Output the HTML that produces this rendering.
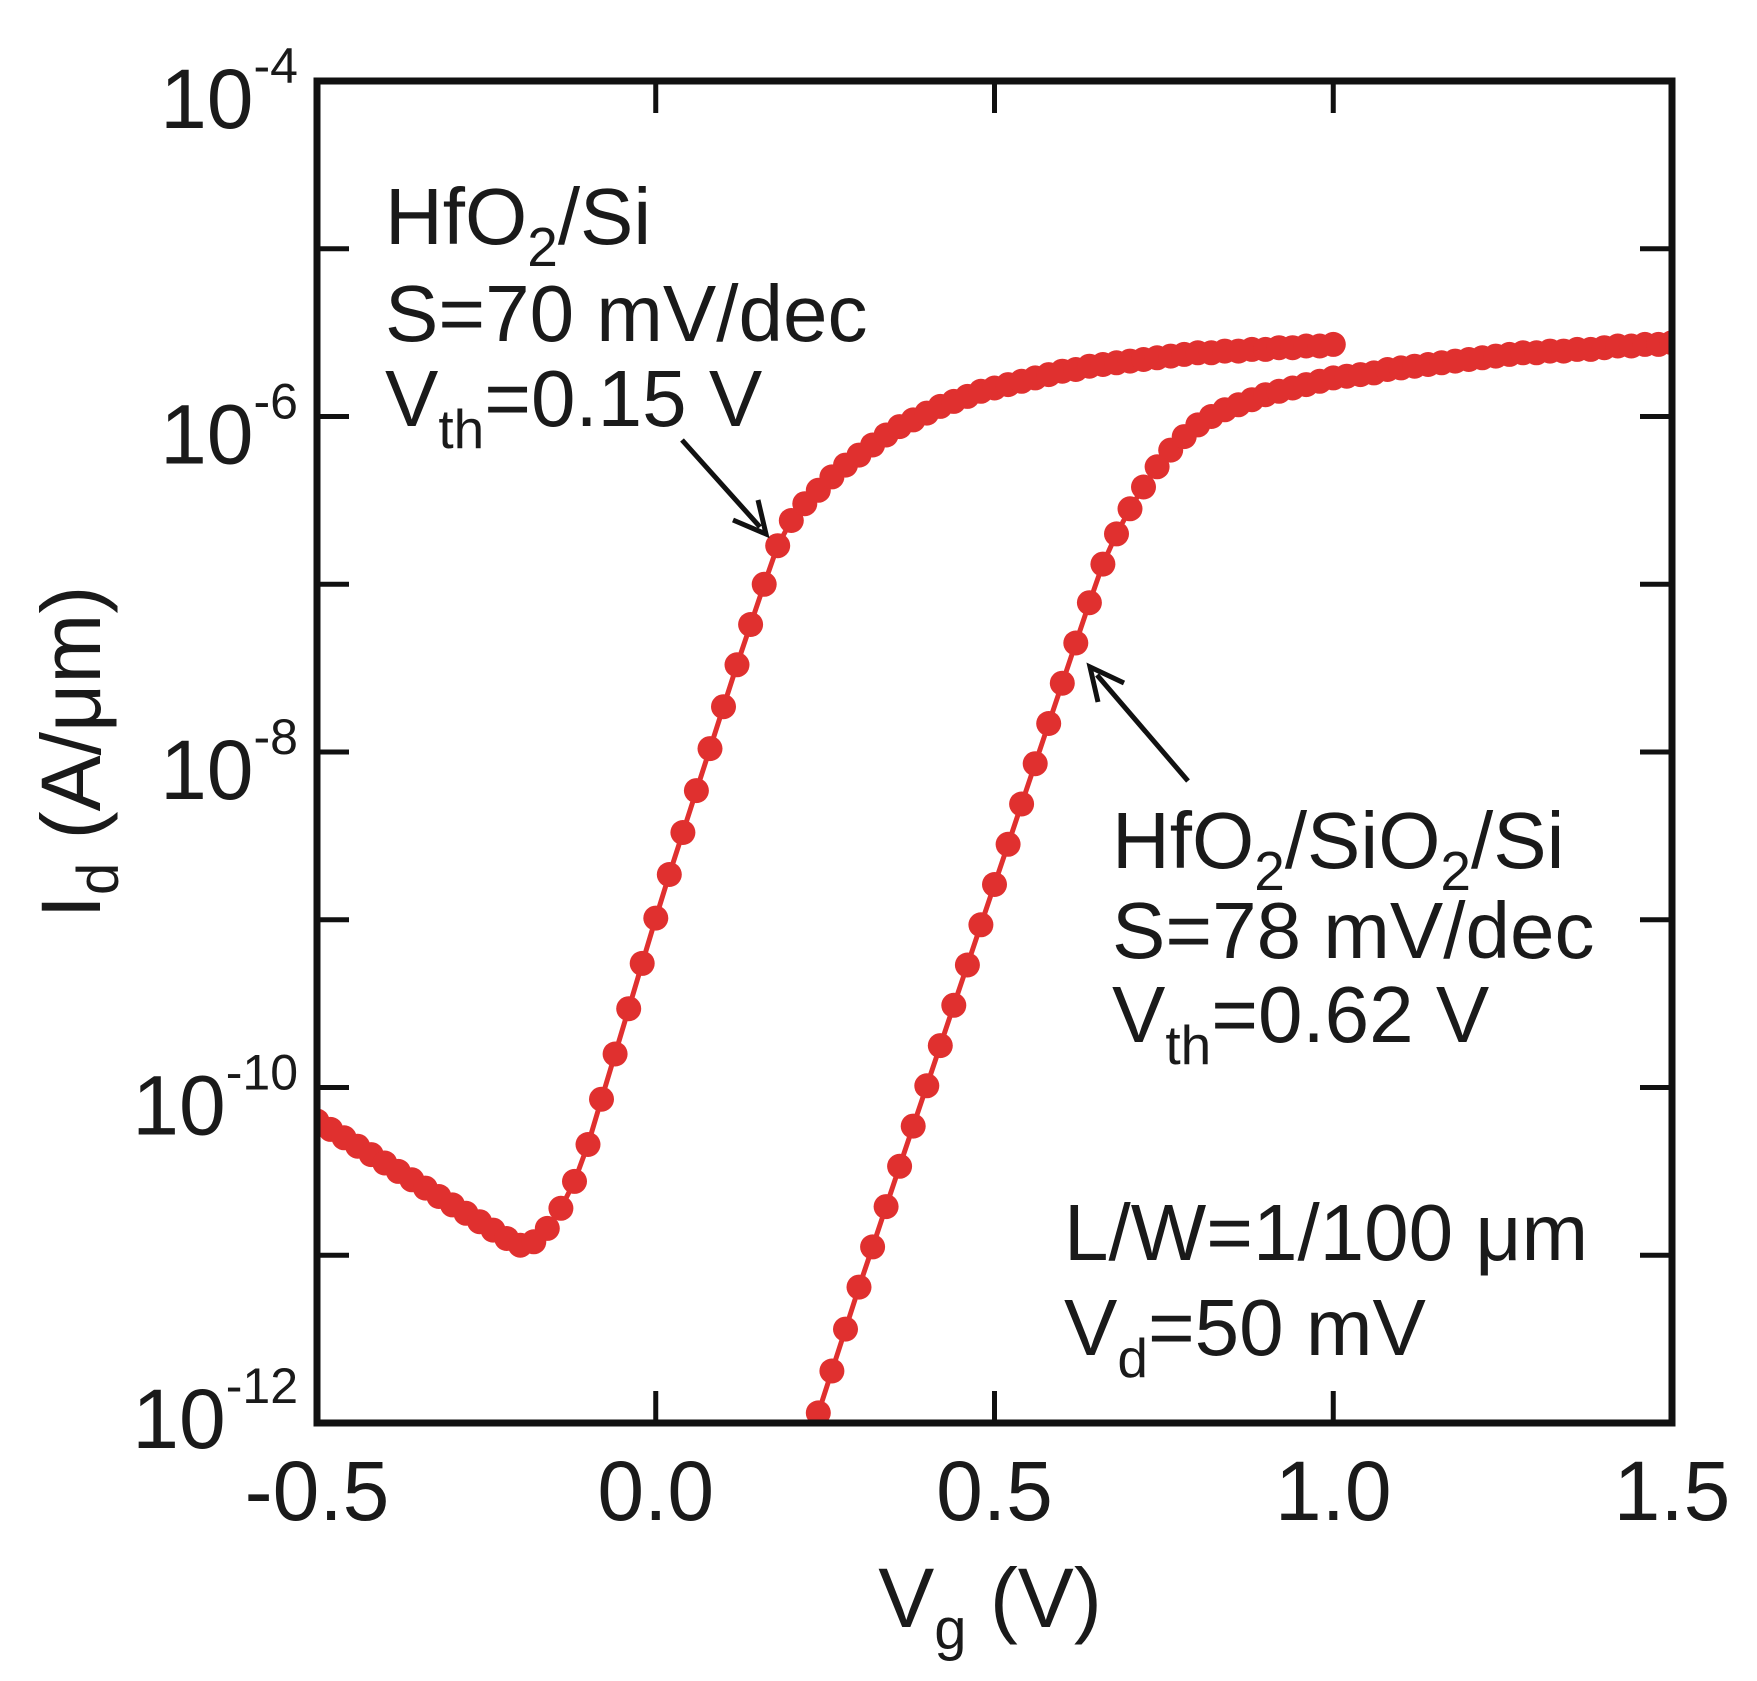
<!DOCTYPE html>
<html><head><meta charset="utf-8"><style>
html,body{margin:0;padding:0;background:#fff;}
svg{display:block;font-family:"Liberation Sans",Arial,sans-serif;}
</style></head><body>
<svg id="chart" width="1757" height="1681" viewBox="0 0 1757 1681" xmlns="http://www.w3.org/2000/svg">
<defs><clipPath id="plotclip"><rect x="317" y="81" width="1355" height="1342"/></clipPath></defs>
<rect x="0" y="0" width="1757" height="1681" fill="#fff"/>
<g id="series" clip-path="url(#plotclip)"></g>
<g id="axes"></g>
<g font-size="80" fill="#1a1a1a">
  <text x="385" y="244">HfO<tspan font-size="55" dy="22">2</tspan><tspan dy="-22">/Si</tspan></text>
  <text x="385" y="341">S=70 mV/dec</text>
  <text x="385" y="426">V<tspan font-size="55" dy="22">th</tspan><tspan dy="-22">=0.15 V</tspan></text>
  <text x="1112" y="868">HfO<tspan font-size="55" dy="22">2</tspan><tspan dy="-22">/SiO</tspan><tspan font-size="55" dy="22">2</tspan><tspan dy="-22">/Si</tspan></text>
  <text x="1112" y="958">S=78 mV/dec</text>
  <text x="1112" y="1042">V<tspan font-size="55" dy="22">th</tspan><tspan dy="-22">=0.62 V</tspan></text>
  <text x="1064" y="1260">L/W=1/100 μm</text>
  <text x="1064" y="1355">V<tspan font-size="55" dy="22">d</tspan><tspan dy="-22">=50 mV</tspan></text>
</g>
<g stroke="#111" stroke-width="5" fill="none">
  <line x1="682" y1="440" x2="760" y2="527"/>
  <polyline points="733,520 766,534 758,500"/>
  <line x1="1188" y1="781" x2="1097" y2="675"/>
  <polyline points="1124,683 1090,667 1098,702"/>
</g>
<text x="100" y="752" font-size="84" fill="#1a1a1a" text-anchor="middle" transform="rotate(-90 100 752)">I<tspan font-size="58" dy="18">d</tspan><tspan dy="-18">  (A/μm)</tspan></text>
<text x="990" y="1627" font-size="84" fill="#1a1a1a" text-anchor="middle">V<tspan font-size="58" dy="22">g</tspan><tspan dy="-22">  (V)</tspan></text>
</svg>
<script>
const xTicks = [-0.5, 0.0, 0.5, 1.0, 1.5];
const xTickLabels = ["-0.5", "0.0", "0.5", "1.0", "1.5"];
const yDecades = [-4, -5, -6, -7, -8, -9, -10, -11, -12];
const yLabelExps = [-4, -6, -8, -10, -12];
const vg1 = [-0.50,-0.48,-0.46,-0.44,-0.42,-0.40,-0.38,-0.36,-0.34,-0.32,-0.30,-0.28,-0.26,-0.24,-0.22,-0.20,-0.18,-0.16,-0.14,-0.12,-0.10,-0.08,-0.06,-0.04,-0.02,0.00,0.02,0.04,0.06,0.08,0.10,0.12,0.14,0.16,0.18,0.20,0.22,0.24,0.26,0.28,0.30,0.32,0.34,0.36,0.38,0.40,0.42,0.44,0.46,0.48,0.50,0.52,0.54,0.56,0.58,0.60,0.62,0.64,0.66,0.68,0.70,0.72,0.74,0.76,0.78,0.80,0.82,0.84,0.86,0.88,0.90,0.92,0.94,0.96,0.98,1.00];
const logId1 = [-10.20,-10.25,-10.30,-10.35,-10.40,-10.45,-10.50,-10.55,-10.60,-10.65,-10.70,-10.75,-10.80,-10.85,-10.90,-10.94,-10.92,-10.84,-10.72,-10.56,-10.34,-10.07,-9.80,-9.53,-9.26,-8.99,-8.73,-8.48,-8.23,-7.98,-7.73,-7.48,-7.24,-7.00,-6.77,-6.62,-6.52,-6.44,-6.36,-6.29,-6.23,-6.17,-6.11,-6.06,-6.02,-5.98,-5.94,-5.91,-5.88,-5.85,-5.83,-5.81,-5.79,-5.77,-5.75,-5.73,-5.72,-5.70,-5.69,-5.68,-5.67,-5.66,-5.65,-5.64,-5.63,-5.62,-5.62,-5.61,-5.61,-5.60,-5.60,-5.59,-5.59,-5.58,-5.58,-5.57];
const vg2 = [0.24,0.26,0.28,0.30,0.32,0.34,0.36,0.38,0.40,0.42,0.44,0.46,0.48,0.50,0.52,0.54,0.56,0.58,0.60,0.62,0.64,0.66,0.68,0.70,0.72,0.74,0.76,0.78,0.80,0.82,0.84,0.86,0.88,0.90,0.92,0.94,0.96,0.98,1.00,1.02,1.04,1.06,1.08,1.10,1.12,1.14,1.16,1.18,1.20,1.22,1.24,1.26,1.28,1.30,1.32,1.34,1.36,1.38,1.40,1.42,1.44,1.46,1.48,1.50];
const logId2 = [-11.94,-11.69,-11.44,-11.19,-10.95,-10.71,-10.47,-10.23,-9.99,-9.75,-9.51,-9.27,-9.03,-8.79,-8.55,-8.31,-8.07,-7.83,-7.59,-7.35,-7.11,-6.88,-6.70,-6.55,-6.42,-6.30,-6.20,-6.12,-6.05,-6.00,-5.96,-5.93,-5.90,-5.87,-5.85,-5.83,-5.81,-5.79,-5.77,-5.76,-5.75,-5.74,-5.72,-5.71,-5.70,-5.69,-5.68,-5.67,-5.66,-5.65,-5.64,-5.63,-5.62,-5.62,-5.61,-5.61,-5.60,-5.60,-5.59,-5.58,-5.58,-5.57,-5.57,-5.56];

const NS = "http://www.w3.org/2000/svg";
const L = 317, R = 1672, T = 81, B = 1423;
function xs(v){ return L + (v + 0.5) / 2.0 * (R - L); }
function ys(e){ return T + (-4 - e) / 8 * (B - T); }
function mk(tag, attrs, parent){ const el = document.createElementNS(NS, tag); for (const k in attrs) el.setAttribute(k, attrs[k]); parent.appendChild(el); return el; }

const series = document.getElementById('series');
const axes = document.getElementById('axes');
const RED = '#e0302f';

function drawSeries(vs, ls, name){
  const g = mk('g', {}, series);
  
  
  const pts = vs.map((v, i) => xs(v).toFixed(1) + ',' + ys(ls[i]).toFixed(1)).join(' ');
  const pl = mk('polyline', {points: pts, fill: 'none', stroke: RED, 'stroke-width': 5}, g);
  
  
  vs.forEach((v, i) => {
    const c = mk('circle', {cx: xs(v).toFixed(1), cy: ys(ls[i]).toFixed(1), r: 12.5, fill: RED}, g);
    
    
  });
}
drawSeries(vg1, logId1, 'series-hfo2-si');
drawSeries(vg2, logId2, 'series-hfo2-sio2-si');

yDecades.forEach(e => {
  const y = ys(e);
  const t1 = mk('line', {x1: L, y1: y, x2: L + 32, y2: y, stroke: '#111', 'stroke-width': 5}, axes);
  
  
  const t2 = mk('line', {x1: R - 32, y1: y, x2: R, y2: y, stroke: '#111', 'stroke-width': 5}, axes);
  
  
});
xTicks.forEach((v, i) => {
  const x = xs(v);
  const t1 = mk('line', {x1: x, y1: B, x2: x, y2: B - 32, stroke: '#111', 'stroke-width': 5}, axes);
  
  
  const t2 = mk('line', {x1: x, y1: T, x2: x, y2: T + 32, stroke: '#111', 'stroke-width': 5}, axes);
  
  
  const tx = mk('text', {x: x, y: 1520, 'font-size': 84, 'text-anchor': 'middle', fill: '#1a1a1a'}, axes);
  tx.textContent = xTickLabels[i];
  
  
});
yLabelExps.forEach(e => {
  const y = ys(e);
  const bottom = (e === -12);
  const base = bottom ? y + 25 : y + 47;
  const sup = bottom ? y - 20 : y + 2;
  const tx = mk('text', {x: 298, y: base, 'font-size': 84, 'text-anchor': 'end', fill: '#1a1a1a'}, axes);
  
  
  const a = mk('tspan', {}, tx); a.textContent = '10';
  const b = mk('tspan', {'font-size': 50, dy: (sup - base)}, tx); b.textContent = String(e);
});
const frame = mk('rect', {x: L, y: T, width: R - L, height: B - T, fill: 'none', stroke: '#111', 'stroke-width': 7}, axes);


</script>
</body></html>
